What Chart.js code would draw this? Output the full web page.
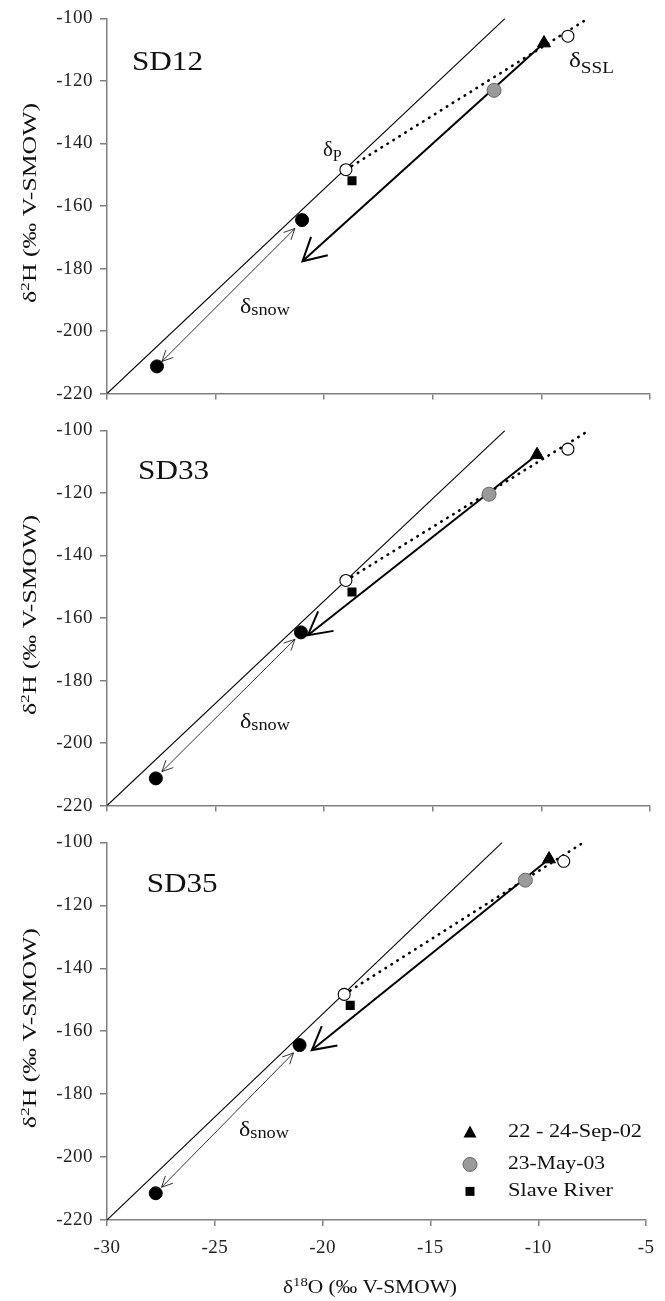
<!DOCTYPE html>
<html>
<head>
<meta charset="utf-8">
<script src="https://cdn.jsdelivr.net/npm/chart.js@4.4.1/dist/chart.umd.min.js"></script>
<style>
  body { margin: 0; background: #fff; }
  #wrap { position: relative; width: 665px; height: 1301px; }
  canvas { position: absolute; left: 0; }
</style>
</head>
<body>
<div id="wrap">
  <canvas id="c1" width="665" height="412" style="top:0px"></canvas>
  <canvas id="c2" width="665" height="412" style="top:412px"></canvas>
  <canvas id="c3" width="665" height="477" style="top:824px"></canvas>
</div>
<script>
// panels
const sites = ["SD12", "SD33", "SD35"];
const xTicks = [-30, -25, -20, -15, -10, -5];
const yTicks = [-220, -200, -180, -160, -140, -120, -100];

// meteoric water line (same in each panel)
const lmwlX = [-30, -11.67];
const lmwlY = [-220, -100];

// snow (black circles)
const snowX = [[-27.7, -21.02], [-27.75, -21.07], [-27.74, -21.07]];
const snowY = [[-211.3, -164.5], [-211.3, -164.6], [-211.5, -164.4]];

// delta P and delta SSL (open circles)
const openX = [[-19.0, -8.78], [-19.0, -8.78], [-19.0, -8.82]];
const openY = [[-148.4, -105.7], [-148.0, -106.0], [-148.3, -106.0]];

// dotted evaporation line
const dotX = [[-19.0, -7.85], [-19.0, -7.8], [-19.0, -7.9]];
const dotY = [[-148.4, -100], [-148.0, -100], [-148.3, -100]];

// samples
const sepX = [-9.88, -10.2, -9.5];
const sepY = [-107.9, -107.8, -105.3];
const mayX = [-12.18, -12.41, -10.6];
const mayY = [-123.0, -120.4, -112.0];
const slaveX = [-18.72, -18.72, -18.72];
const slaveY = [-151.9, -151.7, -151.8];

// thick arrow tip (starts at the Sep-02 point)
const tipX = [-21.0, -20.75, -20.5];
const tipY = [-177.7, -165.5, -166.0];

// thin double arrow (snow range)
const snowArrowX = [-21.35, -27.47];
const snowArrowY = [[-167.2, -209.7], [-166.8, -209.1], [-166.9, -209.6]];

// text positions (data units)
const siteLabelX = [-28.85, -28.57, -28.16];
const siteLabelY = [-116.4, -115.4, -115.8];
const snowLabelX = [-23.88, -23.88, -23.88];
const snowLabelY = [-194.3, -195.3, -193.2];

const legendNames = ["22 - 24-Sep-02", "23-May-03", "Slave River"];

const FONT = '"Liberation Serif", "Times New Roman", serif';
const AXIS = "#808080";

function pts(xs, ys) {
  return xs.map((x, k) => ({ x: x, y: ys[k] }));
}

// draw a run of text pieces; parts = [text, size, dy]; stretched to target width
function textRun(ctx, x, y, parts, target, align) {
  let w = 0;
  parts.forEach(p => {
    ctx.font = p[1] + "px " + FONT;
    p.w = ctx.measureText(p[0]).width;
    w += p.w;
  });
  const k = target ? target / w : 1;
  const total = w * k;
  ctx.save();
  ctx.translate(align === "center" ? x - total / 2 : x, y);
  ctx.scale(k, 1);
  let cx = 0;
  parts.forEach(p => {
    ctx.font = p[1] + "px " + FONT;
    ctx.fillText(p[0], cx, p[2]);
    cx += p.w;
  });
  ctx.restore();
}

function arrowHead(ctx, fx, fy, tx, ty, len, ang, lw) {
  const a = Math.atan2(ty - fy, tx - fx);
  ctx.beginPath();
  ctx.moveTo(tx - len * Math.cos(a - ang), ty - len * Math.sin(a - ang));
  ctx.lineTo(tx, ty);
  ctx.lineTo(tx - len * Math.cos(a + ang), ty - len * Math.sin(a + ang));
  ctx.lineWidth = lw;
  ctx.strokeStyle = "#000";
  ctx.stroke();
}

function marker(ctx, type, x, y) {
  ctx.beginPath();
  if (type === "triangle") {
    ctx.moveTo(x, y - 7); ctx.lineTo(x + 6.5, y + 5); ctx.lineTo(x - 6.5, y + 5); ctx.closePath();
    ctx.fillStyle = "#000"; ctx.fill();
  } else if (type === "circle") {
    ctx.arc(x, y, 7, 0, Math.PI * 2);
    ctx.fillStyle = "#9a9a9a"; ctx.fill();
    ctx.strokeStyle = "#666"; ctx.lineWidth = 1; ctx.stroke();
  } else {
    ctx.rect(x - 4.5, y - 4.5, 9, 9);
    ctx.fillStyle = "#000"; ctx.fill();
  }
}

const spacing = {
  id: "spacing",
  beforeDraw(chart) { chart.ctx.letterSpacing = "0.5px"; }
};

const overlay = {
  id: "overlay",
  afterDatasetsDraw(chart) {
    const i = chart.options.plugins.overlay.panel;
    const ctx = chart.ctx;
    const xs = chart.scales.x, ys = chart.scales.y;
    const px = v => xs.getPixelForValue(v), py = v => ys.getPixelForValue(v);
    const area = chart.chartArea;
    ctx.save();
    ctx.letterSpacing = "0px";

    // thick arrow head
    arrowHead(ctx, px(sepX[i]), py(sepY[i]), px(tipX[i]), py(tipY[i]), 26, 0.5, 2);
    // thin double arrow heads
    const ax0 = px(snowArrowX[0]), ay0 = py(snowArrowY[i][0]);
    const ax1 = px(snowArrowX[1]), ay1 = py(snowArrowY[i][1]);
    arrowHead(ctx, ax1, ay1, ax0, ay0, 12, 0.45, 0.8);
    arrowHead(ctx, ax0, ay0, ax1, ay1, 12, 0.45, 0.8);

    ctx.fillStyle = "#111";
    ctx.textBaseline = "alphabetic";
    ctx.textAlign = "left";
    // site name
    textRun(ctx, px(siteLabelX[i]), py(siteLabelY[i]), [[sites[i], 27, 0]], 71, "left");
    // snow label
    const sx = px(snowLabelX[i]), sy = py(snowLabelY[i]);
    textRun(ctx, sx, sy, [["δ", 21, 0], ["snow", 16, 2]], 50, "left");
    if (i === 0) {
      textRun(ctx, px(-20.06), py(-144), [["δ", 21, 0], ["P", 16, 5]], 0, "left");
      textRun(ctx, px(-8.73), py(-115.7), [["δ", 21, 0], ["SSL", 16, 6]], 45, "left");
    }

    // y axis title
    ctx.save();
    ctx.translate(36, (area.top + area.bottom) / 2 - 3);
    ctx.rotate(-Math.PI / 2);
    textRun(ctx, 0, 0, [["δ", 19, 0], ["2", 13, -7], ["H (‰ V-SMOW)", 19, 0]], 200, "center");
    ctx.restore();

    if (i === 2) {
      // legend
      const rows = [area.top + 290, area.top + 322, area.top + 349];
      const types = ["triangle", "circle", "rect"];
      const widths = [134, 97, 105];
      rows.forEach((ry, k) => {
        marker(ctx, types[k], 470, ry);
        ctx.fillStyle = "#111";
        ctx.textBaseline = "middle";
        textRun(ctx, 508, ry, [[legendNames[k], 19, 0]], widths[k], "left");
      });
      // x axis title
      ctx.textBaseline = "alphabetic";
      textRun(ctx, 370, 469, [["δ", 19, 0], ["18", 13, -7], ["O (‰ V-SMOW)", 19, 0]], 174, "center");
    }
    ctx.restore();
  }
};

function makeChart(i) {
  const canvas = document.getElementById("c" + (i + 1));
  const H = canvas.height;
  const tops = [18, 17, 16];
  const bottoms = [400, 400, 396];
  const last = i === 2;
  new Chart(canvas, {
    type: "scatter",
    data: {
      datasets: [
        { label: legendNames[0], data: [{ x: sepX[i], y: sepY[i] }], pointStyle: "triangle", pointRadius: 7.5,
          backgroundColor: "#000", borderColor: "#000", borderWidth: 1 },
        { label: legendNames[1], data: [{ x: mayX[i], y: mayY[i] }], pointStyle: "circle", pointRadius: 7,
          backgroundColor: "#9a9a9a", borderColor: "#666", borderWidth: 1 },
        { label: legendNames[2], data: [{ x: slaveX[i], y: slaveY[i] }], pointStyle: "rect", pointRadius: 6.4,
          backgroundColor: "#000", borderColor: "#000", borderWidth: 0 },
        { label: "snow", data: pts(snowX[i], snowY[i]), pointRadius: 6.5, backgroundColor: "#000", borderColor: "#000" },
        { label: "open", data: pts(openX[i], openY[i]), pointRadius: 6, backgroundColor: "#fff", borderColor: "#000", borderWidth: 1.1 },
        { label: "evaporation", data: pts(dotX[i], dotY[i]), showLine: true, pointRadius: 0, borderColor: "#000",
          borderWidth: 2.6, borderDash: [0.5, 6.5], borderCapStyle: "round" },
        { label: "arrow", data: [{ x: sepX[i], y: sepY[i] }, { x: tipX[i], y: tipY[i] }], showLine: true, pointRadius: 0,
          borderColor: "#000", borderWidth: 2 },
        { label: "snow range", data: pts(snowArrowX, snowArrowY[i]), showLine: true, pointRadius: 0,
          borderColor: "#000", borderWidth: 0.8 },
        { label: "LMWL", data: pts(lmwlX, lmwlY), showLine: true, pointRadius: 0, borderColor: "#000", borderWidth: 1.1 }
      ]
    },
    options: {
      responsive: false,
      animation: false,
      events: [],
      layout: { padding: { top: tops[i], left: 0, right: 15, bottom: 0 } },
      plugins: { legend: { display: false }, tooltip: { enabled: false }, overlay: { panel: i } },
      scales: {
        x: {
          type: "linear", min: -30, max: -5,
          afterBuildTicks: s => { s.ticks = xTicks.map(v => ({ value: v })); },
          afterFit: s => { s.height = H - bottoms[i]; },
          border: { display: true, color: AXIS, width: 1.5 },
          grid: { drawOnChartArea: false, drawTicks: true, tickLength: 6, color: AXIS, lineWidth: 1.5 },
          ticks: { display: last, color: "#222", padding: 11, maxRotation: 0,
                   font: { family: FONT, size: 19 }, callback: v => String(v) }
        },
        y: {
          type: "linear", min: -220, max: -100,
          afterBuildTicks: s => { s.ticks = yTicks.map(v => ({ value: v })); },
          afterFit: s => { s.width = 107; },
          border: { display: true, color: AXIS, width: 1.5 },
          grid: { drawOnChartArea: false, drawTicks: true, tickLength: 7, color: AXIS, lineWidth: 1.5 },
          ticks: { color: "#222", padding: 7, font: { family: FONT, size: 19 }, callback: v => String(v) }
        }
      }
    },
    plugins: [spacing, overlay]
  });
}

[0, 1, 2].forEach(makeChart);
</script>
</body>
</html>
